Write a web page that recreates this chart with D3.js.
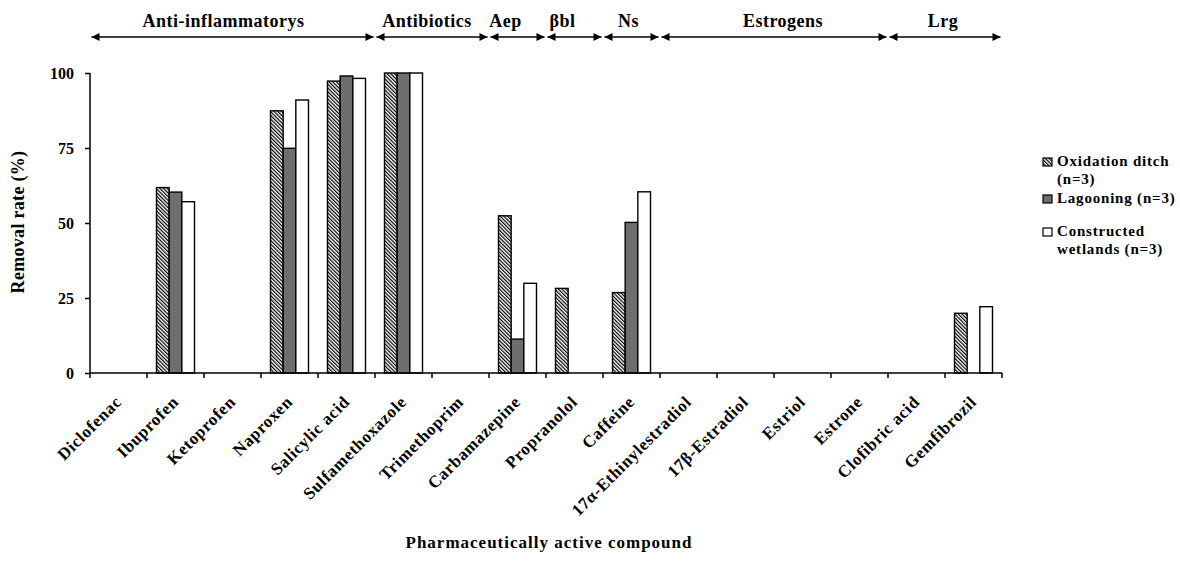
<!DOCTYPE html>
<html>
<head>
<meta charset="utf-8">
<script src="https://cdn.jsdelivr.net/npm/d3@7"></script>
<style>
  body { margin: 0; background: #fff; }
  svg { display: block; }
  text { font-family: "Liberation Serif", "Times New Roman", serif; font-weight: bold; fill: #000; }
</style>
</head>
<body>
<svg id="chart" width="1180" height="565"></svg>
<script>
// ---------- DATA ----------
const categories = ["Diclofenac", "Ibuprofen", "Ketoprofen", "Naproxen", "Salicylic acid",
  "Sulfamethoxazole", "Trimethoprim", "Carbamazepine", "Propranolol", "Caffeine",
  "17α-Ethinylestradiol", "17β-Estradiol", "Estriol", "Estrone", "Clofibric acid", "Gemfibrozil"];
const seriesNames = ["Oxidation ditch (n=3)", "Lagooning (n=3)", "Constructed wetlands (n=3)"];
const oxidationDitch      = [0, 61.8, 0, 87.4, 97.3, 100, 0, 52.4, 28.2, 26.8, 0, 0, 0, 0, 0, 19.9];
const lagooning           = [0, 60.3, 0, 74.9, 99.0, 100, 0, 11.3, 0,    50.2, 0, 0, 0, 0, 0, 0];
const constructedWetlands = [0, 57.1, 0, 91.0, 98.2, 100, 0, 29.9, 0,    60.4, 0, 0, 0, 0, 0, 22.1];
const yTicks = [0, 25, 50, 75, 100];
const groupNames = ["Anti-inflammatorys", "Antibiotics", "Aep", "βbl", "Ns", "Estrogens", "Lrg"];
const groupSizes = [5, 2, 1, 1, 1, 4, 2];
const legendLines = [["Oxidation ditch", "(n=3)"], ["Lagooning (n=3)"], ["Constructed", "wetlands (n=3)"]];
const yTitle = "Removal rate (%)";
const xTitle = "Pharmaceutically active compound";

// ---------- LAYOUT ----------
const svg = d3.select("#chart");
const mLeft = 90, mRight = 1002, mTop = 73, mBottom = 373;
const groupLabelDx = [-9, -5, -12, -12, -3, 9, -2];

const x0 = d3.scaleBand().domain(categories).range([mLeft, mRight]).padding(0);
const x1 = d3.scaleBand().domain(seriesNames).range([0, x0.bandwidth()]).paddingInner(0).paddingOuter(0.75);
const y = d3.scaleLinear().domain([0, 100]).range([mBottom, mTop]);

const defs = svg.append("defs");
const pat = defs.append("pattern").attr("id", "hatch").attr("patternUnits", "userSpaceOnUse")
  .attr("width", 2.6).attr("height", 2.6).attr("patternTransform", "rotate(-45)");
pat.append("rect").attr("width", 2.6).attr("height", 2.6).attr("fill", "#fff");
pat.append("rect").attr("width", 1.2).attr("height", 2.6).attr("fill", "#000");

const fills = ["url(#hatch)", "#6e6e6e", "#ffffff"];
const seriesValues = [oxidationDitch, lagooning, constructedWetlands];

// bars
seriesNames.forEach((s, si) => {
  svg.append("g").selectAll("rect")
    .data(categories.map((c, i) => ({ c, v: seriesValues[si][i] })).filter(d => d.v > 0))
    .join("rect")
    .attr("x", d => x0(d.c) + x1(s))
    .attr("y", d => y(d.v))
    .attr("width", x1.bandwidth())
    .attr("height", d => y(0) - y(d.v))
    .attr("fill", fills[si])
    .attr("stroke", "#000")
    .attr("stroke-width", 1.4);
});

// y axis
const yAxis = d3.axisLeft(y).tickValues(yTicks).tickSize(5).tickPadding(11);
const gy = svg.append("g").attr("transform", `translate(${mLeft},0)`).call(yAxis);
gy.select(".domain").attr("stroke", "#000").attr("stroke-width", 1.5).attr("d", `M0,${mTop}V${mBottom}`);
gy.selectAll(".tick line").attr("stroke", "#000").attr("stroke-width", 1.5);
gy.selectAll(".tick text").style("font-size", "16px").style("font-family", "Liberation Serif").style("font-weight", "bold").attr("dy", "0.35em");

// x axis line + boundary ticks
svg.append("line").attr("x1", mLeft).attr("x2", mRight).attr("y1", mBottom).attr("y2", mBottom)
  .attr("stroke", "#000").attr("stroke-width", 1.5);
const bounds = categories.map(c => x0(c)).concat([x0.range()[1]]);
svg.append("g").selectAll("line").data(bounds).join("line")
  .attr("x1", d => d).attr("x2", d => d).attr("y1", mBottom).attr("y2", mBottom + 5)
  .attr("stroke", "#000").attr("stroke-width", 1.5);

// x labels
svg.append("g").selectAll("text").data(categories).join("text")
  .attr("transform", c => `translate(${x0(c) + x0.bandwidth() / 2 + 4},${mBottom + 30}) rotate(-45)`)
  .attr("text-anchor", "end")
  .style("font-size", "17px").style("letter-spacing", "0.6px")
  .text(c => c);

// titles
svg.append("text").attr("transform", `translate(24,222) rotate(-90)`).attr("text-anchor", "middle")
  .style("font-size", "18px").style("letter-spacing", "0.3px").text(yTitle);
svg.append("text").attr("x", 549).attr("y", 548).attr("text-anchor", "middle")
  .style("font-size", "17px").style("letter-spacing", "1px").text(xTitle);

// group arrows
const arrowY = 37;
const marker = defs.append("marker").attr("id", "ah").attr("viewBox", "0 0 10 10")
  .attr("refX", 10).attr("refY", 5).attr("markerWidth", 10).attr("markerHeight", 8)
  .attr("markerUnits", "userSpaceOnUse").attr("orient", "auto-start-reverse");
marker.append("path").attr("d", "M0,0L10,5L0,10Z").attr("fill", "#000");

let start = 0;
groupNames.forEach((g, gi) => {
  const first = categories[start];
  const last = categories[start + groupSizes[gi] - 1];
  const xa = x0(first) + 1.5, xb = x0(last) + x0.bandwidth() - 1.5;
  svg.append("line").attr("x1", xa).attr("x2", xb).attr("y1", arrowY).attr("y2", arrowY)
    .attr("stroke", "#000").attr("stroke-width", 1.6)
    .attr("marker-start", "url(#ah)").attr("marker-end", "url(#ah)");
  svg.append("text").attr("x", (xa + xb) / 2 + groupLabelDx[gi]).attr("y", 27)
    .attr("text-anchor", "middle").style("font-size", "18px").style("letter-spacing", "0.5px").text(g);
  start += groupSizes[gi];
});

// legend
const legendRows = [161, 198, 231];
const lg = svg.append("g");
legendLines.forEach((lines, i) => {
  lg.append("rect").attr("x", 1043).attr("y", legendRows[i] - 3).attr("width", 9).attr("height", 8)
    .attr("fill", fills[i]).attr("stroke", "#000").attr("stroke-width", 1.2);
  lines.forEach((t, j) => {
    lg.append("text").attr("x", 1057).attr("y", legendRows[i] + 5 + j * 18)
      .style("font-size", "15px").style("letter-spacing", "0.8px").text(t);
  });
});
</script>
</body>
</html>
